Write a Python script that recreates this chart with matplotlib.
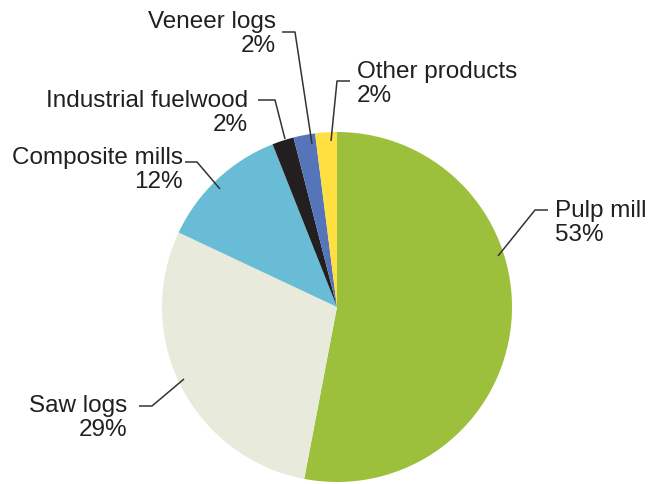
import matplotlib
matplotlib.use("Agg")
import matplotlib.pyplot as plt

# ---- data ----
categories = ["Pulp mill", "Saw logs", "Composite mills", "Industrial fuelwood", "Veneer logs", "Other products"]
shares = [53, 29, 12, 2, 2, 2]
pct_labels = ["53%", "29%", "12%", "2%", "2%", "2%"]
colors = ["#9DC03C", "#E8EBDC", "#69BCD6", "#231F20", "#5674BA", "#FFE040"]

plt.rcParams['font.family'] = ['Liberation Sans', 'DejaVu Sans']

W, H = 648, 485
fig = plt.figure(figsize=(W / 100, H / 100), dpi=100)
ax = fig.add_axes([0, 0, 1, 1])

cx, cy, R = 337, 308, 175
ax.pie(shares, colors=colors, startangle=-90, counterclock=True,
       center=(cx, cy), radius=R, wedgeprops=dict(linewidth=0), frame=False)
ax.set_xlim(0, W)
ax.set_ylim(H, 0)
ax.set_aspect('equal', adjustable='datalim')
ax.axis('off')

# label layout: text anchor (x, y, ha), leader polyline in pixel coords
layout = {
    "Pulp mill": ((555, 223, 'left'), [(548, 211), (535, 211), (498, 257)]),
    "Saw logs": ((127, 418, 'right'), [(139, 407), (152, 407), (184, 380)]),
    "Composite mills": ((183, 170, 'right'), [(185, 163), (197, 163), (220, 190)]),
    "Industrial fuelwood": ((248, 113, 'right'), [(258, 101), (275, 101), (285, 140)]),
    "Veneer logs": ((276, 34, 'right'), [(282, 33), (295, 33), (312, 145)]),
    "Other products": ((357, 84, 'left'), [(350, 82), (337, 82), (331, 142)]),
}

for cat, pct in zip(categories, pct_labels):
    (tx, ty, ha), pts = layout[cat]
    ax.text(tx, ty, f"{cat}\n{pct}", ha=ha, va='center', multialignment=ha,
            fontsize=17.5, color='#231F20', linespacing=1.17)
    xs = [p[0] for p in pts]
    ys = [p[1] for p in pts]
    ax.plot(xs, ys, color='#333333', lw=1.1, solid_capstyle='butt')

fig.savefig("out.png", dpi=100)
